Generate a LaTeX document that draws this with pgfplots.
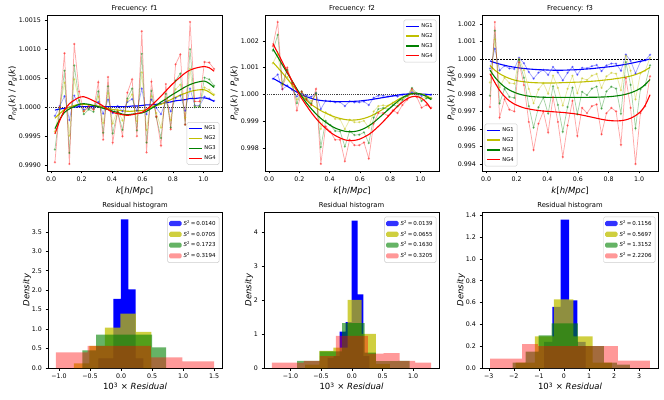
\documentclass[border=0pt]{standalone}
\usepackage{fontspec}
\setmainfont{DejaVu Sans}
\usepackage{pgfplots}
\pgfplotsset{compat=1.18}
\usepackage{pgfplotstable}
\definecolor{mb}{rgb}{0,0,1}
\definecolor{my}{rgb}{0.75,0.75,0}
\definecolor{mg}{rgb}{0,0.5,0}
\definecolor{mr}{rgb}{1,0,0}

% k, raw NG1..NG4, fitted NG1..NG4
\pgfplotstableread{
k b1 b2 b3 b4 f1 f2 f3 f4
0.025 0.99985 0.99958 0.99927 0.99905 0.99995 0.99981 0.99963 0.99954
0.057 1.00002 1.00000 0.99996 1.00000 0.99997 0.99989 0.99979 0.99977
0.088 1.00019 1.00042 1.00063 1.00093 0.99998 0.99996 0.99991 0.99995
0.120 0.99978 0.99951 0.99921 0.99902 1.00000 1.00000 0.99997 1.00006
0.152 1.00020 1.00048 1.00072 1.00109 1.00000 1.00003 1.00001 1.00012
0.184 1.00003 1.00010 1.00012 1.00027 1.00001 1.00005 1.00005 1.00017
0.215 0.99996 0.99993 0.99988 0.99993 1.00001 1.00005 1.00006 1.00018
0.247 0.99998 0.99998 0.99996 1.00002 1.00001 1.00004 1.00005 1.00015
0.279 0.99998 0.99996 0.99992 0.99996 1.00001 1.00003 1.00003 1.00011
0.310 1.00009 1.00018 1.00027 1.00043 1.00001 1.00002 1.00001 1.00007
0.342 0.99989 0.99973 0.99956 0.99944 1.00001 1.00000 0.99998 1.00002
0.374 1.00013 1.00024 1.00036 1.00052 1.00001 0.99998 0.99996 0.99996
0.405 0.99990 0.99972 0.99955 0.99939 1.00001 0.99996 0.99993 0.99991
0.437 1.00002 0.99996 0.99992 0.99992 1.00001 0.99995 0.99991 0.99989
0.469 0.99993 0.99977 0.99961 0.99950 1.00001 0.99994 0.99988 0.99987
0.501 1.00009 1.00011 1.00015 1.00025 1.00001 0.99993 0.99987 0.99986
0.532 1.00014 1.00022 1.00032 1.00048 1.00002 0.99993 0.99988 0.99987
0.564 0.99994 0.99976 0.99960 0.99950 1.00002 0.99994 0.99989 0.99989
0.596 1.00032 1.00060 1.00092 1.00131 1.00003 0.99994 0.99990 0.99991
0.627 0.99988 0.99961 0.99939 0.99922 1.00004 0.99996 0.99993 0.99996
0.659 1.00013 1.00019 1.00028 1.00044 1.00004 1.00000 0.99998 1.00003
0.691 0.99999 0.99990 0.99983 0.99984 1.00005 1.00003 1.00003 1.00011
0.722 0.99988 0.99965 0.99947 0.99934 1.00006 1.00005 1.00009 1.00019
0.754 1.00010 1.00015 1.00023 1.00040 1.00008 1.00009 1.00014 1.00028
0.786 0.99993 0.99978 0.99965 0.99962 1.00009 1.00013 1.00020 1.00037
0.818 1.00016 1.00031 1.00046 1.00074 1.00011 1.00017 1.00025 1.00045
0.849 1.00020 1.00039 1.00058 1.00091 1.00012 1.00021 1.00030 1.00052
0.881 0.99994 0.99982 0.99970 0.99970 1.00013 1.00024 1.00035 1.00059
0.913 1.00032 1.00066 1.00100 1.00147 1.00015 1.00027 1.00039 1.00064
0.944 1.00003 1.00002 1.00000 1.00010 1.00015 1.00029 1.00042 1.00067
0.976 1.00003 1.00002 1.00001 1.00010 1.00016 1.00030 1.00044 1.00069
1.008 1.00018 1.00034 1.00051 1.00078 1.00016 1.00030 1.00045 1.00070
1.039 1.00015 1.00030 1.00048 1.00077 1.00014 1.00026 1.00041 1.00068
1.071 1.00011 1.00022 1.00037 1.00066 1.00010 1.00020 1.00034 1.00062
}\fone

\pgfplotstableread{
k b1 b2 b3 b4 f1 f2 f3 f4
0.025 1.00058 1.00116 1.00163 1.00180 1.00060 1.00120 1.00170 1.00190
0.057 1.00074 1.00152 1.00222 1.00270 1.00050 1.00100 1.00140 1.00155
0.088 1.00019 1.00035 1.00039 1.00020 1.00040 1.00080 1.00110 1.00120
0.120 1.00033 1.00065 1.00091 1.00100 1.00030 1.00058 1.00080 1.00085
0.152 1.00017 1.00032 1.00043 1.00040 1.00019 1.00036 1.00050 1.00050
0.184 0.99992 0.99981 0.99967 0.99940 1.00008 1.00015 1.00020 1.00015
0.215 1.00003 1.00007 1.00011 1.00010 0.99998 0.99996 0.99993 0.99985
0.247 0.99996 0.99988 0.99984 0.99980 0.99991 0.99978 0.99968 0.99958
0.279 0.99991 0.99975 0.99966 0.99960 0.99985 0.99962 0.99946 0.99932
0.310 1.00003 1.00000 1.00005 1.00020 0.99980 0.99950 0.99927 0.99910
0.342 0.99945 0.99871 0.99803 0.99740 0.99977 0.99939 0.99910 0.99890
0.374 0.99976 0.99933 0.99901 0.99880 0.99975 0.99930 0.99896 0.99873
0.405 0.99974 0.99923 0.99885 0.99860 0.99974 0.99922 0.99884 0.99858
0.437 0.99970 0.99908 0.99863 0.99830 0.99973 0.99915 0.99874 0.99846
0.469 0.99971 0.99907 0.99862 0.99830 0.99973 0.99910 0.99867 0.99837
0.501 0.99956 0.99870 0.99805 0.99750 0.99973 0.99906 0.99862 0.99830
0.532 0.99974 0.99905 0.99862 0.99830 0.99973 0.99904 0.99860 0.99827
0.564 0.99970 0.99896 0.99848 0.99810 0.99974 0.99904 0.99861 0.99828
0.596 0.99970 0.99896 0.99849 0.99810 0.99975 0.99906 0.99865 0.99832
0.627 0.99973 0.99901 0.99858 0.99820 0.99977 0.99910 0.99872 0.99840
0.659 0.99960 0.99875 0.99818 0.99760 0.99979 0.99916 0.99882 0.99850
0.691 0.99987 0.99936 0.99913 0.99890 0.99982 0.99924 0.99895 0.99864
0.722 0.99995 0.99956 0.99945 0.99930 0.99985 0.99934 0.99910 0.99880
0.754 0.99995 0.99959 0.99949 0.99930 0.99988 0.99945 0.99926 0.99898
0.786 0.99992 0.99958 0.99944 0.99920 0.99991 0.99957 0.99942 0.99917
0.818 0.99995 0.99969 0.99960 0.99940 0.99994 0.99968 0.99958 0.99937
0.849 0.99992 0.99968 0.99955 0.99930 0.99997 0.99979 0.99973 0.99955
0.881 0.99998 0.99984 0.99979 0.99960 1.00000 0.99989 0.99987 0.99971
0.913 1.00000 0.99994 0.99994 0.99980 1.00001 0.99996 0.99997 0.99984
0.944 1.00008 1.00014 1.00024 1.00020 1.00002 1.00001 1.00003 0.99991
0.976 1.00002 1.00002 1.00003 0.99990 1.00002 1.00003 1.00004 0.99992
1.008 0.99994 0.99985 0.99975 0.99950 1.00001 1.00001 1.00000 0.99985
1.039 0.99998 0.99990 0.99985 0.99960 1.00000 0.99995 0.99992 0.99970
1.071 0.99999 0.99987 0.99984 0.99950 0.99998 0.99985 0.99980 0.99945
}\ftwo

\pgfplotstableread{
k b1 b2 b3 b4 f1 f2 f3 f4
0.025 0.99944 0.99865 0.99789 0.99725 0.99988 0.99962 0.99935 0.99915
0.057 1.00057 1.00111 1.00161 1.00210 0.99978 0.99935 0.99895 0.99865
0.088 0.99934 0.99836 0.99746 0.99665 0.99970 0.99915 0.99865 0.99820
0.120 0.99960 0.99892 0.99828 0.99770 0.99963 0.99900 0.99840 0.99785
0.152 0.99945 0.99862 0.99783 0.99710 0.99957 0.99888 0.99822 0.99760
0.184 0.99942 0.99858 0.99777 0.99700 0.99952 0.99879 0.99809 0.99742
0.215 1.00006 1.00001 0.99992 0.99980 0.99948 0.99873 0.99799 0.99730
0.247 0.99975 0.99935 0.99892 0.99850 0.99945 0.99869 0.99792 0.99720
0.279 0.99925 0.99828 0.99730 0.99640 0.99942 0.99866 0.99787 0.99714
0.310 0.99887 0.99747 0.99608 0.99480 0.99940 0.99864 0.99784 0.99709
0.342 0.99921 0.99825 0.99724 0.99630 0.99938 0.99863 0.99782 0.99705
0.374 0.99937 0.99861 0.99779 0.99700 0.99937 0.99862 0.99781 0.99702
0.405 0.99908 0.99801 0.99688 0.99580 0.99936 0.99862 0.99780 0.99700
0.437 0.99954 0.99904 0.99843 0.99780 0.99935 0.99862 0.99780 0.99698
0.469 0.99922 0.99834 0.99737 0.99640 0.99935 0.99863 0.99780 0.99696
0.501 0.99877 0.99734 0.99584 0.99440 0.99935 0.99864 0.99780 0.99694
0.532 0.99920 0.99829 0.99725 0.99620 0.99936 0.99865 0.99780 0.99691
0.564 0.99954 0.99903 0.99835 0.99760 0.99937 0.99866 0.99780 0.99688
0.596 0.99909 0.99804 0.99685 0.99560 0.99938 0.99867 0.99780 0.99684
0.627 0.99949 0.99889 0.99812 0.99720 0.99940 0.99868 0.99780 0.99679
0.659 0.99946 0.99879 0.99793 0.99690 0.99942 0.99870 0.99780 0.99673
0.691 0.99958 0.99904 0.99830 0.99730 0.99944 0.99872 0.99781 0.99667
0.722 0.99965 0.99914 0.99842 0.99740 0.99947 0.99874 0.99781 0.99661
0.754 0.99930 0.99834 0.99717 0.99570 0.99950 0.99877 0.99782 0.99655
0.786 0.99962 0.99900 0.99814 0.99690 0.99953 0.99880 0.99783 0.99650
0.818 0.99973 0.99920 0.99841 0.99720 0.99956 0.99883 0.99785 0.99647
0.849 0.99972 0.99915 0.99830 0.99700 0.99960 0.99887 0.99788 0.99646
0.881 0.99932 0.99821 0.99687 0.99510 0.99964 0.99891 0.99792 0.99647
0.913 1.00024 1.00017 0.99981 0.99890 0.99969 0.99896 0.99798 0.99652
0.944 0.99988 0.99932 0.99851 0.99720 0.99974 0.99902 0.99806 0.99661
0.976 0.99917 0.99769 0.99604 0.99400 0.99980 0.99910 0.99817 0.99676
1.008 0.99984 0.99917 0.99826 0.99690 0.99986 0.99921 0.99832 0.99698
1.039 0.99991 0.99932 0.99850 0.99730 0.99992 0.99934 0.99853 0.99734
1.071 1.00023 1.00006 0.99963 0.99900 0.99999 0.99952 0.99882 0.99795
}\fthree

\pgfplotsset{
  panel/.style={scale only axis, anchor=south west, height=156pt,
    tick pos=left, tick align=outside, major tick length=2.5pt,
    every tick/.style={black, line width=0.5pt},
    axis line style={line width=0.5pt},
    tick label style={font=\fontsize{6.3}{7}\selectfont},
    label style={font=\fontsize{8.5}{10}\selectfont},
    title style={font=\fontsize{6.8}{8}\selectfont, yshift=-6pt},
    /pgf/number format/assume math mode=true,
    legend cell align=left,
  },
  noisy/.style={line width=0.75pt, opacity=0.35, mark=*, mark size=0.8pt, forget plot},
  fit/.style={line width=1.1pt, smooth},
  top/.style={panel, xmin=-0.027, xmax=1.123,
    xtick={0,0.2,0.4,0.6,0.8,1.0}, xticklabels={0.0,0.2,0.4,0.6,0.8,1.0},
    xlabel={\textit{k}[\textit{h}/\textit{Mpc}]},
    ylabel={\textit{P}\textsubscript{\textit{ng}}(\textit{k}) / \textit{P}\textsubscript{\textit{g}}(\textit{k})},
    ylabel shift=-5pt, xlabel shift=-2pt,
    legend style={font=\fontsize{5.2}{6}\selectfont, draw=black!20, rounded corners=1.5pt,
      fill=white, fill opacity=0.8, text opacity=1, inner sep=1.5pt, row sep=0.6pt},
  },
  hist/.style={panel, ymin=0, ylabel={\textit{Density}}, ylabel shift=-6pt,
    xlabel={10\textsuperscript{3} × \textit{Residual}}, xlabel shift=-3pt,
    legend style={font=\fontsize{5.5}{6.5}\selectfont, draw=black!20, rounded corners=1.5pt,
      fill=white, fill opacity=0.8, text opacity=1, inner sep=1.5pt, row sep=0.4pt},
  },
  hbar/.style={draw=none, const plot mark left,
    legend image code/.code={\fill[##1] (0pt,-2.6pt) rectangle (12.5pt,2.6pt);}},
}

\begin{document}
\begin{tikzpicture}
\path[use as bounding box] (0pt,0pt) rectangle (664pt,399pt);

% ---------- f1 ----------
\begin{axis}[top, at={(47pt,228pt)}, width=175pt, title={Frecuency: f1},
  ymin=0.99890, ymax=1.00159,
  ytick={0.999,0.9995,1.0,1.0005,1.001,1.0015},
  yticklabels={0.9990,0.9995,1.0000,1.0005,1.0010,1.0015},
  legend image code/.code={\draw[#1] (0pt,0pt) -- (13pt,0pt);},
  legend style={at={(0.985,0.04)}, anchor=south east}]
\addplot[black!75, densely dotted, line width=1.1pt, forget plot] coordinates {(-0.027,1) (1.123,1)};
\addplot[noisy, mb] table[x=k,y=b1]{\fone};
\addplot[fit, mb] table[x=k,y=f1]{\fone}; \addlegendentry{NG1}
\addplot[noisy, my] table[x=k,y=b2]{\fone};
\addplot[fit, my] table[x=k,y=f2]{\fone}; \addlegendentry{NG2}
\addplot[noisy, mg] table[x=k,y=b3]{\fone};
\addplot[fit, mg] table[x=k,y=f3]{\fone}; \addlegendentry{NG3}
\addplot[noisy, mr] table[x=k,y=b4]{\fone};
\addplot[fit, mr] table[x=k,y=f4]{\fone}; \addlegendentry{NG4}
\end{axis}

% ---------- f2 ----------
\begin{axis}[top, at={(265pt,228pt)}, width=174pt, title={Frecuency: f2},
  ymin=0.997135, ymax=1.002965,
  ytick={0.998,0.999,1.0,1.001,1.002},
  yticklabels={0.998,0.999,1.000,1.001,1.002},
  legend image code/.code={\draw[#1] (0pt,0pt) -- (13pt,0pt);},
  legend style={at={(0.985,0.97)}, anchor=north east}]
\addplot[black!75, densely dotted, line width=1.1pt, forget plot] coordinates {(-0.027,1) (1.123,1)};
\addplot[noisy, mb] table[x=k,y=b1]{\ftwo};
\addplot[fit, mb] table[x=k,y=f1]{\ftwo}; \addlegendentry{NG1}
\addplot[noisy, my] table[x=k,y=b2]{\ftwo};
\addplot[fit, my] table[x=k,y=f2]{\ftwo}; \addlegendentry{NG2}
\addplot[noisy, mg] table[x=k,y=b3]{\ftwo};
\addplot[fit, mg] table[x=k,y=f3]{\ftwo}; \addlegendentry{NG3}
\addplot[noisy, mr] table[x=k,y=b4]{\ftwo};
\addplot[fit, mr] table[x=k,y=f4]{\ftwo}; \addlegendentry{NG4}
\end{axis}

% ---------- f3 ----------
\begin{axis}[top, at={(482pt,228pt)}, width=176pt, title={Frecuency: f3},
  ymin=0.99360, ymax=1.00250,
  ytick={0.994,0.995,0.996,0.997,0.998,0.999,1.0,1.001,1.002},
  yticklabels={0.994,0.995,0.996,0.997,0.998,0.999,1.000,1.001,1.002},
  legend image code/.code={\draw[#1] (0pt,0pt) -- (13pt,0pt);},
  legend style={at={(0.015,0.03)}, anchor=south west}]
\addplot[black, dash pattern=on 2pt off 1pt, line width=0.6pt, forget plot] coordinates {(-0.027,1) (1.123,1)};
\addplot[noisy, mb] table[x=k,y=b1]{\fthree};
\addplot[fit, mb] table[x=k,y=f1]{\fthree}; \addlegendentry{NG1}
\addplot[noisy, my] table[x=k,y=b2]{\fthree};
\addplot[fit, my] table[x=k,y=f2]{\fthree}; \addlegendentry{NG2}
\addplot[noisy, mg] table[x=k,y=b3]{\fthree};
\addplot[fit, mg] table[x=k,y=f3]{\fthree}; \addlegendentry{NG3}
\addplot[noisy, mr] table[x=k,y=b4]{\fthree};
\addplot[fit, mr] table[x=k,y=f4]{\fthree}; \addlegendentry{NG4}
\end{axis}

% ---------- histogram 1 ----------
\begin{axis}[hist, at={(48pt,31pt)}, width=174pt, title={Residual histogram},
  xmin=-1.1775, xmax=1.6275, ymax=4.01,
  xtick={-1,-0.5,0,0.5,1,1.5}, xticklabels={−1.0,−0.5,0.0,0.5,1.0,1.5},
  ytick={0,0.5,1,1.5,2,2.5,3,3.5}, yticklabels={0.0,0.5,1.0,1.5,2.0,2.5,3.0,3.5},
  legend style={at={(0.985,0.97)}, anchor=north east}]
\addplot[hbar, fill=mb] table {
x y
-0.365 0.25
-0.245 0.25
-0.124 1.78
-0.004 3.82
0.117 2.02
0.237 0.25
0.358 0.25
} \closedcycle;
\addlegendentry{\textit{S}\textsuperscript{2}\,=\,0.0140}
\addplot[hbar, fill=my, fill opacity=0.75] table {
x y
-0.76 0.12
-0.51 0.57
-0.26 1.04
-0.01 1.40
0.24 0.93
0.49 0.93
} \closedcycle;
\addlegendentry{\textit{S}\textsuperscript{2}\,=\,0.0705}
\addplot[hbar, fill=mg, fill opacity=0.6] table {
x y
-0.625 0.45
-0.40 0.86
-0.175 0.86
0.05 0.86
0.275 0.86
0.50 0.53
0.725 0.53
} \closedcycle;
\addlegendentry{\textit{S}\textsuperscript{2}\,=\,0.1723}
\addplot[hbar, fill=mr, fill opacity=0.4] table {
x y
-1.05 0.40
-0.795 0.40
-0.54 0.57
-0.285 0.57
-0.03 0.57
0.225 0.57
0.48 0.27
0.735 0.27
0.99 0.17
1.245 0.17
1.5 0.17
} \closedcycle;
\addlegendentry{\textit{S}\textsuperscript{2}\,=\,0.3194}
\end{axis}

% ---------- histogram 2 ----------
\begin{axis}[hist, at={(264pt,31pt)}, width=175pt, title={Residual histogram},
  xmin=-1.43, xmax=1.42, ymax=4.58,
  xtick={-1,-0.5,0,0.5,1}, xticklabels={−1.0,−0.5,0.0,0.5,1.0},
  ytick={0,1,2,3,4}, yticklabels={0,1,2,3,4},
  legend style={at={(0.985,0.97)}, anchor=north east}]
\addplot[hbar, fill=mb] table {
x y
-0.392 0.30
-0.295 0.35
-0.198 1.07
-0.101 1.35
-0.004 4.33
0.093 2.16
0.190 0.35
0.287 0.35
} \closedcycle;
\addlegendentry{\textit{S}\textsuperscript{2}\,=\,0.0139}
\addplot[hbar, fill=my, fill opacity=0.75] table {
x y
-0.76 0.10
-0.53 0.50
-0.30 0.60
-0.07 2.00
0.16 1.00
0.39 0.12
0.62 0.12
} \closedcycle;
\addlegendentry{\textit{S}\textsuperscript{2}\,=\,0.0655}
\addplot[hbar, fill=mg, fill opacity=0.6] table {
x y
-0.890 0.21
-0.707 0.21
-0.524 0.49
-0.341 0.49
-0.158 1.32
0.025 1.32
0.208 0.45
0.391 0.20
0.574 0.20
0.757 0.21
0.940 0.21
} \closedcycle;
\addlegendentry{\textit{S}\textsuperscript{2}\,=\,0.1630}
\addplot[hbar, fill=mr, fill opacity=0.4] table {
x y
-1.30 0.16
-1.04 0.16
-0.78 0.21
-0.52 0.35
-0.26 0.94
0.00 0.94
0.26 0.42
0.52 0.44
0.78 0.21
1.03 0.16
1.29 0.16
} \closedcycle;
\addlegendentry{\textit{S}\textsuperscript{2}\,=\,0.3205}
\end{axis}

% ---------- histogram 3 ----------
\begin{axis}[hist, at={(482pt,31pt)}, width=176pt, title={Residual histogram},
  xmin=-3.27, xmax=3.75, ymax=1.43,
  xtick={-3,-2,-1,0,1,2,3}, xticklabels={−3,−2,−1,0,1,2,3},
  ytick={0,0.2,0.4,0.6,0.8,1.0,1.2,1.4}, yticklabels={0.0,0.2,0.4,0.6,0.8,1.0,1.2,1.4},
  legend style={at={(0.985,0.97)}, anchor=north east}]
\addplot[hbar, fill=mb] table {
x y
-0.79 0.24
-0.46 0.56
-0.13 1.36
0.20 0.62
0.53 0.24
0.86 0.24
} \closedcycle;
\addlegendentry{\textit{S}\textsuperscript{2}\,=\,0.1156}
\addplot[hbar, fill=my, fill opacity=0.75] table {
x y
-1.93 0.05
-1.16 0.29
-0.40 0.63
0.37 0.29
1.14 0.05
1.91 0.05
} \closedcycle;
\addlegendentry{\textit{S}\textsuperscript{2}\,=\,0.5697}
\addplot[hbar, fill=mg, fill opacity=0.6] table {
x y
-2.05 0.05
-1.53 0.15
-1.01 0.30
-0.49 0.41
0.03 0.41
0.55 0.20
1.07 0.20
1.59 0.05
2.11 0.03
2.63 0.03
} \closedcycle;
\addlegendentry{\textit{S}\textsuperscript{2}\,=\,1.3152}
\addplot[hbar, fill=mr, fill opacity=0.4] table {
x y
-2.95 0.086
-2.31 0.086
-1.67 0.22
-1.04 0.20
-0.40 0.20
0.24 0.20
0.88 0.20
1.51 0.20
2.15 0.067
2.79 0.067
3.43 0.067
} \closedcycle;
\addlegendentry{\textit{S}\textsuperscript{2}\,=\,2.2206}
\end{axis}
\end{tikzpicture}
\end{document}
